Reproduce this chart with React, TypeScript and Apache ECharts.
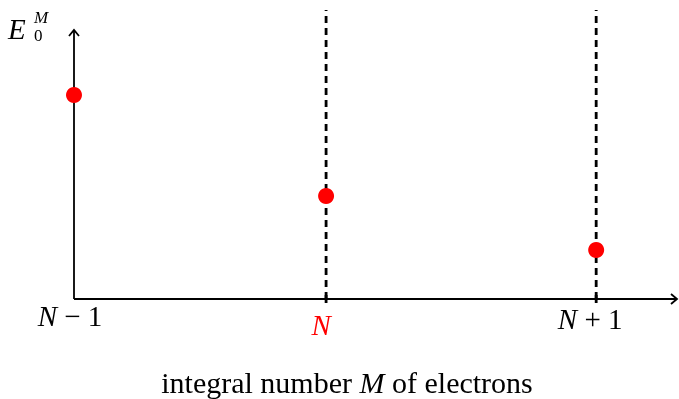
import { useEffect, useRef } from 'react';
import * as echarts from 'echarts';

// Electron counts along the horizontal axis (N − 1, N, N + 1) in axis units
const tickLabels = ['N − 1', 'N', 'N + 1'];
const particleCounts = [0, 2.8, 5.8];
// Ground-state energy E_0^M for each electron count
const groundEnergies = [2.04, 1.03, 0.49];
const labelColors = ['#000000', '#ff0000', '#000000'];

const X_MAX = 6.72;
const Y_MAX = 2.89;
const Y_AXIS_TOP = 2.69;

const FONT = 'Liberation Serif, DejaVu Serif, serif';
const FS = 29;

function splitLabel(s: string) {
  // first glyph is the italic variable N, the rest is upright
  return `{i|${s.slice(0, 1)}}{r|${s.slice(1)}}`;
}

export default function App() {
  const ref = useRef<HTMLDivElement>(null);

  useEffect(() => {
    if (!ref.current) return;
    const chart = echarts.init(ref.current, null, { renderer: 'svg' });

    const option: any = {
      animation: false,
      grid: { left: 74, right: 0, top: 10, bottom: 100 },
      xAxis: { type: 'value', min: 0, max: X_MAX, show: false },
      yAxis: { type: 'value', min: 0, max: Y_MAX, show: false },
      graphic: [
        {
          type: 'text',
          x: 8,
          y: 29,
          style: {
            text: 'E', fontStyle: 'italic', fontSize: 29, fontFamily: FONT,
            fill: '#000', verticalAlign: 'middle',
          },
        },
        {
          type: 'text',
          x: 34,
          y: 17,
          style: {
            text: 'M', fontStyle: 'italic', fontSize: 17, fontFamily: FONT,
            fill: '#000', verticalAlign: 'middle',
          },
        },
        {
          type: 'text',
          x: 34,
          y: 35,
          style: {
            text: '0', fontSize: 17, fontFamily: FONT,
            fill: '#000', verticalAlign: 'middle',
          },
        },
        {
          type: 'text',
          x: 347,
          y: 382,
          style: {
            text: 'integral number {i|M} of electrons',
            fontSize: 30,
            fontFamily: FONT,
            fill: '#000',
            align: 'center',
            verticalAlign: 'middle',
            rich: {
              i: { fontStyle: 'italic', fontSize: 30, fontFamily: FONT },
            },
          },
        },
      ],
      series: [
        {
          // coordinate axes with open arrow heads
          type: 'custom',
          silent: true,
          clip: false,
          z: 1,
          data: [[0, 0]],
          renderItem: (_params: any, api: any) => {
            const o = api.coord([0, 0]);
            const xe = api.coord([X_MAX, 0]);
            const ye = api.coord([0, Y_AXIS_TOP]);
            const st = { stroke: '#000', lineWidth: 1.8, fill: 'none' };
            const xTip = xe[0] - 2;
            return {
              type: 'group',
              children: [
                { type: 'line', shape: { x1: o[0], y1: o[1], x2: xTip, y2: o[1] }, style: st },
                {
                  type: 'polyline',
                  shape: { points: [[xTip - 6, o[1] - 5], [xTip, o[1]], [xTip - 6, o[1] + 5]] },
                  style: st,
                },
                { type: 'line', shape: { x1: o[0], y1: o[1], x2: o[0], y2: ye[1] }, style: st },
                {
                  type: 'polyline',
                  shape: { points: [[o[0] - 5, ye[1] + 6], [o[0], ye[1]], [o[0] + 5, ye[1] + 6]] },
                  style: st,
                },
              ],
            };
          },
        },
        {
          // dashed guides, ticks and tick labels at each electron count
          type: 'custom',
          silent: true,
          clip: false,
          z: 2,
          data: particleCounts.map((x, i) => [x, i]),
          renderItem: (_params: any, api: any) => {
            const x = api.value(0);
            const i = api.value(1);
            const b = api.coord([x, 0]);
            const t = api.coord([x, Y_MAX]);
            const dy = [17, 26, 20][i];
            const dx = [-4, -5, -6][i];
            const children: any[] = [];
            if (i > 0) {
              children.push({
                type: 'line',
                shape: { x1: b[0], y1: b[1], x2: t[0], y2: t[1] },
                style: { stroke: '#000', lineWidth: 2.8, lineDash: [7, 5] },
              });
              children.push({
                type: 'line',
                shape: { x1: b[0], y1: b[1] - 4, x2: b[0], y2: b[1] + 4 },
                style: { stroke: '#000', lineWidth: 2.8 },
              });
            }
            children.push({
              type: 'text',
              style: {
                text: splitLabel(tickLabels[i]),
                x: b[0] + dx,
                y: b[1] + dy,
                align: 'center',
                verticalAlign: 'middle',
                fill: labelColors[i],
                fontSize: FS,
                fontFamily: FONT,
                rich: {
                  i: { fontStyle: 'italic', fontSize: FS, fontFamily: FONT, fill: labelColors[i] },
                  r: { fontSize: FS, fontFamily: FONT, fill: labelColors[i] },
                },
              },
            });
            return { type: 'group', children };
          },
        },
        {
          type: 'scatter',
          z: 3,
          symbol: 'circle',
          symbolSize: 16,
          itemStyle: { color: '#ff0000', opacity: 1 },
          data: particleCounts.map((x, i) => [x, groundEnergies[i]]),
        },
      ],
    };

    chart.setOption(option);
    return () => chart.dispose();
  }, []);

  return (
    <div
      ref={ref}
      style={{ position: 'fixed', left: 0, top: 0, width: 679, height: 399 }}
    />
  );
}
